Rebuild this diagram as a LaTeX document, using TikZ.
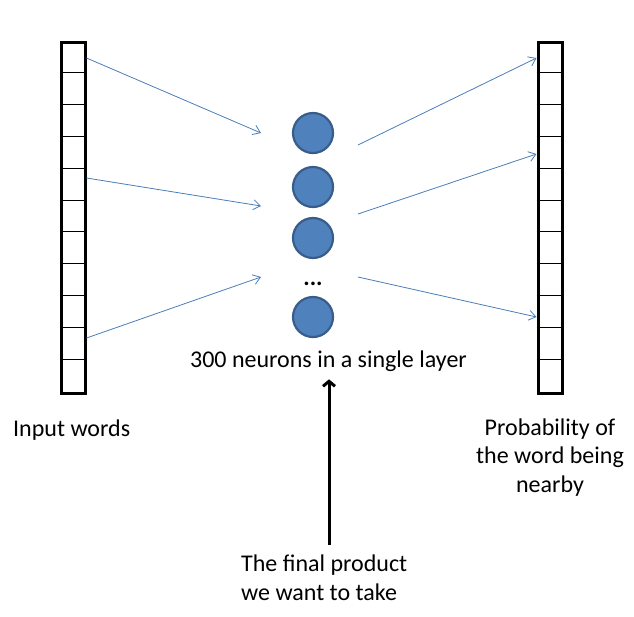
\documentclass[tikz,border=0pt]{standalone}
\usepackage{fontspec}
\setmainfont{Carlito}
\usetikzlibrary{arrows.meta,positioning,calc}
\definecolor{neuronfill}{HTML}{4F81BD}
\definecolor{neurondraw}{HTML}{385D8A}
\definecolor{linkblue}{HTML}{4A7EBB}
\tikzset{
  wordbar/.style={draw=black,line width=3pt,minimum width=24pt,minimum height=351pt,inner sep=0pt},
  neuron/.style={circle,draw=neurondraw,fill=neuronfill,line width=2.2pt,minimum size=40pt,inner sep=0pt},
  link/.style={-{Straight Barb[length=7pt,width=10pt]},draw=linkblue,line width=0.8pt},
  pointer/.style={-{Straight Barb[length=5pt,width=12pt]},draw=black,line width=3pt},
  labeltext/.style={font=\fontsize{24}{28.5}\selectfont,inner sep=0pt}
}
\begin{document}
\begin{tikzpicture}[x=1pt,y=-1pt]
      \useasboundingbox (0,0) rectangle (634,616);
      % word vectors
      \node[wordbar] (inbar) at (73,217.5) {};
      \node[wordbar] (outbar) at (550,217.5) {};
      \foreach \k in {1,...,10}{
        \draw[line width=1pt] ($(inbar.north west)+(0,31.9*\k)$) -- ($(inbar.north east)+(0,31.9*\k)$);
        \draw[line width=1pt] ($(outbar.north west)+(0,31.9*\k)$) -- ($(outbar.north east)+(0,31.9*\k)$);
      }
      % hidden layer
      \node[neuron] (n1) at (313,133) {};
      \node[neuron] (n2) at (313,187) {};
      \node[neuron] (n3) at (313,238) {};
      \node[labeltext,anchor=base] (dots) at (313,285) {\textbf{...}};
      \node[neuron] (n4) at (313,317) {};
      % connections
      \coordinate (a1) at (261,133);
      \coordinate (a2) at (261,206);
      \coordinate (a3) at (261,277);
      \coordinate (b1) at (358,145);
      \coordinate (b2) at (358,214);
      \coordinate (b3) at (358,277);
      \draw[link] (inbar.east |- 0,58) -- (a1);
      \draw[link] (inbar.east |- 0,178) -- (a2);
      \draw[link] (inbar.east |- 0,338) -- (a3);
      \draw[link] (b1) -- (outbar.west |- 0,58);
      \draw[link] (b2) -- (outbar.west |- 0,154);
      \draw[link] (b3) -- (outbar.west |- 0,317);
      % labels (base of a multi-line node = its last line)
      \node[labeltext,anchor=base] (layer) at (328.5,367) {300 neurons in a single layer};
      \node[labeltext,anchor=base west] (inlabel) at (13,436) {Input words};
      \node[labeltext,anchor=base,align=center] (outlabel) at (550,492) {Probability of\\the word being\\nearby};
      \node[labeltext,anchor=base west,align=left] (final) at (241,600) {The final product\\we want to take};
      \coordinate (ptail) at (329,545);
      \draw[pointer] (ptail) -- (ptail |- layer.south) [shorten >=8pt];
\end{tikzpicture}
\end{document}
